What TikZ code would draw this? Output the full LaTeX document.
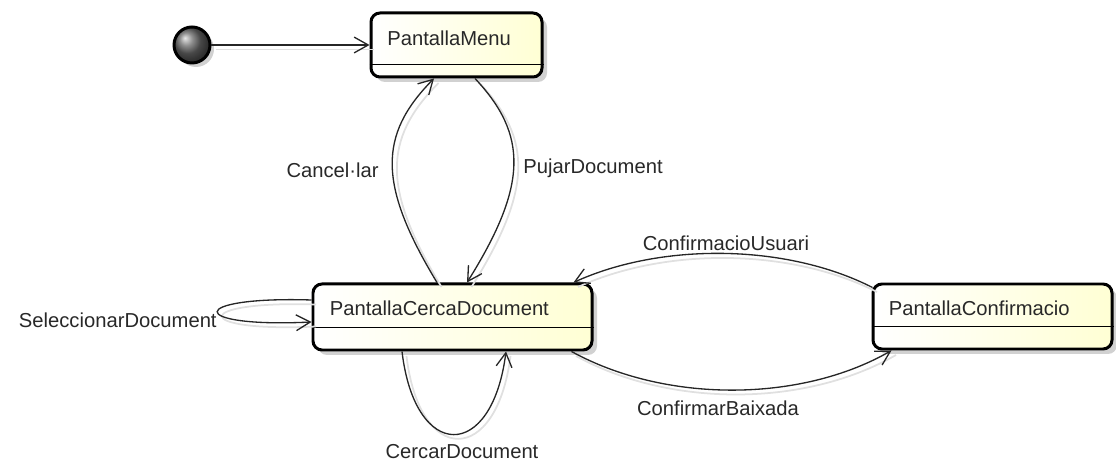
\documentclass[tikz,border=0pt]{standalone}
\usepackage{fontspec}
\setmainfont{Liberation Sans}
\usepackage{tikz}
\usepackage{xcolor}
\usetikzlibrary{arrows.meta,positioning,calc,shadows}
\definecolor{textdark}{RGB}{40,40,40}
\definecolor{statefill}{RGB}{255,255,212}

\tikzset{
  state/.style={draw=black, line width=1.7pt, rounded corners=0.18cm, left color=white, right color=statefill,
    drop shadow={shadow xshift=0.1cm, shadow yshift=-0.1cm, fill=black!18, opacity=1}, inner sep=0pt},
  statetext/.style={font=\fontsize{11.5}{13}\selectfont, text=textdark, anchor=west, inner sep=0pt},
  divider/.style={line width=0.7pt},
  flow/.style={draw=black!85, line width=0.75pt, -{Straight Barb[length=8pt,width=9pt]},
    preaction={draw=black!12, line width=1pt, -, transform canvas={shift={(0.09,-0.09)}}}},
  flowlabel/.style={font=\fontsize{11.5}{13}\selectfont, text=textdark, inner sep=0pt}
}

\begin{document}
\begin{tikzpicture}[x=1cm,y=1cm]
\useasboundingbox (0,0) rectangle (22.32,9.36);

% initial pseudo-state
\node[circle, draw=black, line width=1.7pt, minimum size=0.72cm, inner sep=0pt, shading=ball, ball color=black!60,
  drop shadow={shadow xshift=0.08cm, shadow yshift=-0.08cm, fill=black!18, opacity=1}] (init) at (3.84,8.46) {};

% states
\node[state, minimum width=3.42cm, minimum height=1.28cm] (menu) at (9.13,8.46) {};
\node[statetext] (menutxt) at ($(menu.north west)+(0.35,-0.53)$) {PantallaMenu};
\draw[divider] ([yshift=0.28cm]menu.south west) -- ([yshift=0.28cm]menu.south east);

\node[state, minimum width=5.58cm, minimum height=1.32cm] (cerca) at (9.05,3.02) {};
\node[statetext] (cercatxt) at ($(cerca.north west)+(0.36,-0.51)$) {PantallaCercaDocument};
\draw[divider] ([yshift=0.48cm]cerca.south west) -- ([yshift=0.48cm]cerca.south east);

\node[state, minimum width=4.78cm, minimum height=1.30cm] (conf) at (19.85,3.03) {};
\node[statetext] (conftxt) at ($(conf.north west)+(0.34,-0.51)$) {PantallaConfirmacio};
\draw[divider] ([yshift=0.48cm]conf.south west) -- ([yshift=0.48cm]conf.south east);

% transitions
\draw[flow] (init) -- (menu);
\draw[flow] ([xshift=0.37cm]menu.south) .. controls (10.56,6.66) and (10.56,5.66) .. ([xshift=0.29cm]cerca.north);
\draw[flow] ([xshift=-0.31cm]cerca.north) .. controls (7.56,5.66) and (7.56,6.66) .. ([xshift=-0.45cm]menu.south);
\draw[flow] ([shift={(0.02,-0.1)}]conf.north west) .. controls (15.70,4.50) and (13.20,4.50) .. ([xshift=-0.4cm]cerca.north east);
\draw[flow] ([xshift=-0.44cm]cerca.south east) .. controls (13.30,1.30) and (16.00,1.30) .. ([xshift=0.4cm]conf.south west);
\draw[flow] ([yshift=0.34cm]cerca.west) .. controls (3.72,3.44) and (3.72,2.80) .. ([yshift=-0.10cm]cerca.west);
\draw[flow] ([xshift=-1.01cm]cerca.south) .. controls (8.30,0.12) and (9.84,0.12) .. ([xshift=1.07cm]cerca.south);

% labels
\node[flowlabel, anchor=east] (cancel) at (7.58,5.96) {Cancel·lar};
\node[flowlabel, anchor=west] (pujar) at (10.46,6.00) {PujarDocument};
\node[flowlabel] (usuari) at (14.52,4.50) {ConfirmacioUsuari};
\node[flowlabel] (baixada) at (14.36,1.20) {ConfirmarBaixada};
\node[flowlabel, anchor=east] (selec) at (4.34,2.96) {SeleccionarDocument};
\node[flowlabel] (cercar) at (9.24,0.32) {CercarDocument};
\end{tikzpicture}
\end{document}
